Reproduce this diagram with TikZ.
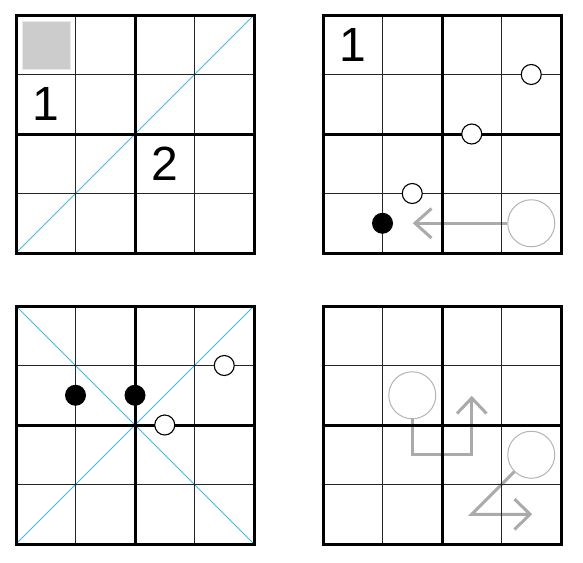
\documentclass[tikz,border=0pt]{standalone}
\usepackage{fontspec}
\setmainfont{Liberation Sans}
\definecolor{diagblue}{RGB}{70,185,230}
\definecolor{arrowgray}{RGB}{170,170,170}
\definecolor{circgray}{RGB}{180,180,180}
\definecolor{squaregray}{RGB}{204,204,204}
\definecolor{squareedge}{RGB}{232,232,232}
\newcommand\sudokugrid[2]{%
  \begin{scope}[shift={(#1,#2)}]
    \foreach \i in {1,3} {
      \draw[gridthin] (\i*59.5,0) -- (\i*59.5,238);
      \draw[gridthin] (0,\i*59.5) -- (238,\i*59.5);
    }
    \draw[gridthick] (119,0) -- (119,238);
    \draw[gridthick] (0,119) -- (238,119);
    \draw[gridthick] (0,0) rectangle (238,238);
  \end{scope}}
\begin{document}
\begin{tikzpicture}[x=1pt,y=-1pt,
  gridthin/.style={line width=1pt,black!85},
  gridthick/.style={line width=3pt,black},
  diag/.style={line width=1pt,diagblue},
  garrow/.style={line width=3pt,arrowgray,line join=miter},
  wcirc/.style={circle,draw=black,line width=1.1pt,fill=white,minimum size=20pt,inner sep=0pt},
  bcirc/.style={circle,fill=black,minimum size=21pt,inner sep=0pt},
  bigcirc/.style={circle,draw=circgray,line width=1pt,minimum size=47pt,inner sep=0pt},
  digit/.style={inner sep=0pt,font=\fontsize{48}{48}\selectfont}]
\useasboundingbox (0,0) rectangle (583,562);
\fill[white] (0,0) rectangle (583,562);

% ---------- panel 1 ----------
\draw[diag] (16,253) -- (254,15);
\draw[fill=squaregray,draw=squareedge,line width=0.8pt] (22.5,21.5) rectangle (70.5,69.5);
\sudokugrid{16}{15}
\node[digit] (p1one) at (45.75,104.25) {1};
\node[digit] (p1two) at (164.75,163.75) {2};

% ---------- panel 2 ----------
\node[bigcirc] (p2big) at (531.25,223.25) {};
\coordinate (p2tip) at (415,223.25);
\draw[garrow] (p2big.west) -- (p2tip);
\draw[garrow] (431.5,208.5) -- (p2tip) -- (431.5,238);
\sudokugrid{323}{15}
\node[digit] (p2one) at (352.75,44.75) {1};
\node[wcirc] (p2w1) at (531.25,74.5) {};
\node[wcirc] (p2w2) at (471.75,134) {};
\node[wcirc] (p2w3) at (412.25,193.5) {};
\node[bcirc] (p2b1) at (382.5,223.25) {};

% ---------- panel 3 ----------
\draw[diag] (16,544) -- (254,306);
\draw[diag] (16,306) -- (254,544);
\sudokugrid{16}{306}
\node[bcirc] (p3b1) at (75.5,395.25) {};
\node[bcirc] (p3b2) at (135,395.25) {};
\node[wcirc] (p3w1) at (224.25,365.5) {};
\node[wcirc] (p3w2) at (164.75,425) {};

% ---------- panel 4 ----------
\node[bigcirc] (p4big1) at (412.25,395.25) {};
\node[bigcirc] (p4big2) at (531.25,454.75) {};
\coordinate (p4tip1) at (471.75,398);
\coordinate (p4tip2) at (530,514.25);
\draw[garrow] (p4big1.south) -- (412.25,454.75) -- (471.75,454.75) -- (p4tip1);
\draw[garrow] (457,413.5) -- (p4tip1) -- (486.5,413.5);
\draw[garrow] (p4big2.south west) -- (471.75,514.25) -- (p4tip2);
\draw[garrow] (514.5,499) -- (p4tip2) -- (514.5,529.5);
\sudokugrid{323}{306}
\end{tikzpicture}
\end{document}
